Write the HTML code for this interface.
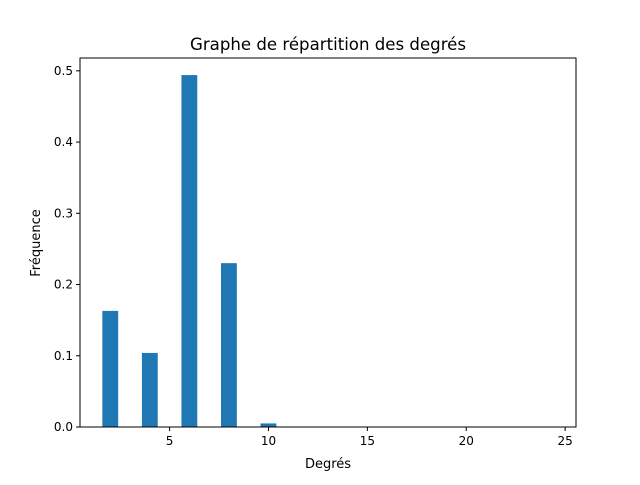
<!DOCTYPE html>
<html><head><meta charset="utf-8"><style>
body{margin:0;background:#fff;font-family:"Liberation Sans","DejaVu Sans",sans-serif}
</style></head><body>
<svg width="640" height="480" xmlns="http://www.w3.org/2000/svg" font-family="DejaVu Sans, Liberation Sans, sans-serif">
<rect width="640" height="480" fill="#fff"/>
<g id="bars"></g>
<g id="axes"></g>
<text x="328" y="50" font-size="16.6" text-anchor="middle">Graphe de répartition des degrés</text>
<text x="328" y="468" font-size="13" text-anchor="middle">Degrés</text>
<text x="40" y="243" font-size="13" text-anchor="middle" transform="rotate(-90 40 243)">Fréquence</text>
</svg>
<script>
const degrees=[2,4,6,8,10];
const freqs=[0.163,0.104,0.494,0.230,0.005];
const xTicks=[5,10,15,20,25];
const yTicks=[0.0,0.1,0.2,0.3,0.4,0.5];
const L=80,R=576,T=58,B=427;
const X0=0.47,X1=25.55,Y0=0,Y1=0.518;
const sx=v=>L+(v-X0)/(X1-X0)*(R-L);
const sy=v=>B-(v-Y0)/(Y1-Y0)*(B-T);
const NS="http://www.w3.org/2000/svg";
const bars=document.getElementById('bars'),axes=document.getElementById('axes');
function mk(tag,at,p){const e=document.createElementNS(NS,tag);for(const k in at)e.setAttribute(k,at[k]);p.appendChild(e);return e;}
const bw=0.8;
degrees.forEach((d,i)=>{
 const r=mk('rect',{x:sx(d-bw/2),y:sy(freqs[i]),width:sx(d+bw/2)-sx(d-bw/2),height:sy(0)-sy(freqs[i]),fill:'#1f77b4'},bars);
 
 
});
const f=mk('rect',{x:L,y:T,width:R-L,height:B-T,fill:'none',stroke:'#000','stroke-width':1},axes);


xTicks.forEach(t=>{
 const x=sx(t);
 mk('line',{x1:x,x2:x,y1:B,y2:B+4,stroke:'#000'},axes);
 const tx=mk('text',{x:x,y:B+18,'font-size':12,'text-anchor':'middle'},axes);
 tx.textContent=t;
 
 
});
yTicks.forEach(t=>{
 const y=sy(t);
 mk('line',{x1:L-4,x2:L,y1:y,y2:y,stroke:'#000'},axes);
 const tx=mk('text',{x:L-7,y:y+4,'font-size':12,'text-anchor':'end'},axes);
 tx.textContent=t.toFixed(1);
 
 
});
</script>
</body></html>
